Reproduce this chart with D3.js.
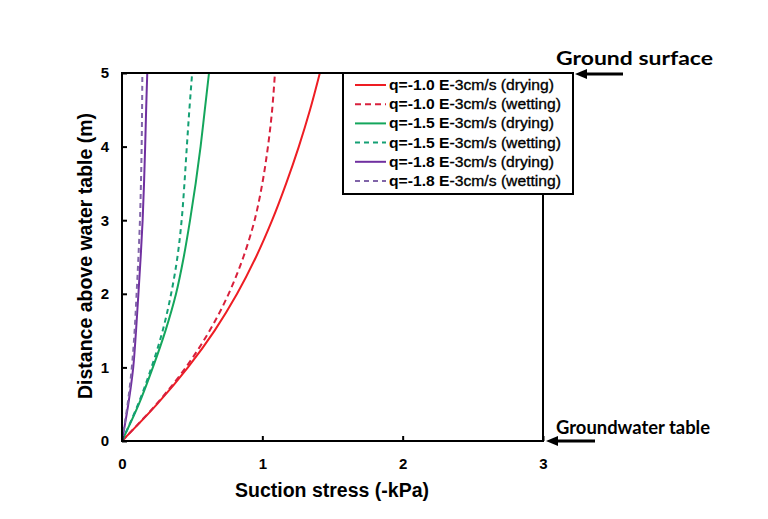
<!DOCTYPE html>
<html><head><meta charset="utf-8">
<script src="https://cdn.jsdelivr.net/npm/d3@7"></script>
<style>body{margin:0;background:#fff}svg{display:block}</style>
</head><body>
<svg id="c" width="768" height="519"></svg>
<script>
const depths = [0, 0.5, 1, 1.5, 2, 2.5, 3, 3.5, 4, 4.5, 5];
const redDry   = [0, 0.25, 0.47, 0.66, 0.82, 0.955, 1.07, 1.17, 1.26, 1.34, 1.41];
const redWet   = [0, 0.245, 0.455, 0.625, 0.76, 0.865, 0.945, 1.0, 1.04, 1.07, 1.09];
const greenDry = [0, 0.12, 0.22, 0.31, 0.385, 0.44, 0.485, 0.525, 0.56, 0.59, 0.62];
const greenWet = [0, 0.115, 0.21, 0.29, 0.35, 0.395, 0.425, 0.445, 0.462, 0.48, 0.50];
const purpDry  = [0, 0.045, 0.08, 0.10, 0.117, 0.133, 0.147, 0.157, 0.165, 0.172, 0.18];
const purpWet  = [0, 0.04, 0.07, 0.09, 0.104, 0.117, 0.128, 0.135, 0.14, 0.143, 0.145];
const xTicks = [0, 1, 2, 3];
const yTicks = [0, 1, 2, 3, 4, 5];
const seriesNames = ["q=-1.0 E-3cm/s (drying)","q=-1.0 E-3cm/s (wetting)","q=-1.5 E-3cm/s (drying)","q=-1.5 E-3cm/s (wetting)","q=-1.8 E-3cm/s (drying)","q=-1.8 E-3cm/s (wetting)"];

const series = [
  {name: seriesNames[0], vals: redDry, color: "#ee1d23", dash: null},
  {name: seriesNames[1], vals: redWet, color: "#d8203c", dash: "6,4"},
  {name: seriesNames[2], vals: greenDry, color: "#14a65c", dash: null},
  {name: seriesNames[3], vals: greenWet, color: "#14a074", dash: "5,4"},
  {name: seriesNames[4], vals: purpDry, color: "#7030a0", dash: null},
  {name: seriesNames[5], vals: purpWet, color: "#8064a8", dash: "5,4"}
];

const svg = d3.select("#c");
const L = 122, R = 543, T = 73, B = 441;
const x = d3.scaleLinear().domain([0, 3]).range([L, R]);
const y = d3.scaleLinear().domain([0, 5]).range([B, T]);
const font = "'Liberation Sans', Arial, sans-serif";

// curves
const line = d3.line().x(d => x(d[0])).y(d => y(d[1])).curve(d3.curveCatmullRom.alpha(0.5));
series.forEach(s => {
  svg.append("path")
    .datum(depths.map((dp, i) => [s.vals[i], dp]))
    .attr("d", line).attr("fill", "none")
    .attr("stroke", s.color).attr("stroke-width", 2)
    .attr("stroke-dasharray", s.dash);
});

// frame
svg.append("rect").attr("x", L).attr("y", T).attr("width", R - L).attr("height", B - T)
  .attr("fill", "none").attr("stroke", "#000").attr("stroke-width", 2);

// axes with inward ticks
const xAxis = d3.axisBottom(x).tickValues(xTicks).tickSize(-5).tickPadding(17).tickFormat(d3.format("d"));
const gx = svg.append("g").attr("transform", `translate(0,${B})`).call(xAxis);
const yAxis = d3.axisLeft(y).tickValues(yTicks).tickSize(-5).tickPadding(13).tickFormat(d3.format("d"));
const gy = svg.append("g").attr("transform", `translate(${L},0)`).call(yAxis);
[gx, gy].forEach(g => {
  g.select(".domain").remove();
  g.selectAll(".tick line").attr("stroke", "#000").attr("stroke-width", 2);
  g.selectAll(".tick text").attr("font-family", font).attr("font-size", 15).attr("font-weight", "bold").attr("fill", "#000");
});

// axis titles
svg.append("text").attr("x", 332).attr("y", 497).attr("text-anchor", "middle")
  .attr("font-family", font).attr("font-size", 19.5).attr("font-weight", "bold").text("Suction stress (-kPa)");
svg.append("text").attr("transform", "translate(92,256) rotate(-90)").attr("text-anchor", "middle")
  .attr("font-family", font).attr("font-size", 19.5).attr("font-weight", "bold").text("Distance above water table (m)");

// legend
const lg = svg.append("g");
lg.append("rect").attr("x", 343).attr("y", 73).attr("width", 230).attr("height", 121)
  .attr("fill", "#fff").attr("stroke", "#000").attr("stroke-width", 2);
series.forEach((s, i) => {
  const yy = 85 + i * 19.2;
  lg.append("line").attr("x1", 355).attr("x2", 386).attr("y1", yy).attr("y2", yy)
    .attr("stroke", s.color).attr("stroke-width", 2).attr("stroke-dasharray", s.dash);
  const parts = s.name.split(" ");
  const t = lg.append("text").attr("x", 389).attr("y", yy + 5).attr("font-family", font).attr("font-size", 15.5)
    .attr("textLength", parts[2].includes("wetting") ? 172 : 165).attr("lengthAdjust", "spacingAndGlyphs");
  t.append("tspan").attr("font-weight", "bold").text(parts[0] + " E");
  t.append("tspan").attr("stroke", "#000").attr("stroke-width", 0.35).text(parts[1].slice(1) + " " + parts[2]);
});

// annotations
const arrow = (x1, x2, yy) => {
  svg.append("line").attr("x1", x1 + 6).attr("x2", x2).attr("y1", yy).attr("y2", yy)
    .attr("stroke", "#000").attr("stroke-width", 3);
  svg.append("path").attr("d", `M${x1},${yy} L${x1 + 12},${yy - 5} L${x1 + 12},${yy + 5} Z`).attr("fill", "#000");
};
arrow(575, 623, 74);
arrow(546, 595, 441);
svg.append("text").attr("x", 556).attr("y", 65).attr("font-family", "Lato, sans-serif")
  .attr("font-size", 18).attr("font-weight", "bold")
  .attr("textLength", 157).attr("lengthAdjust", "spacingAndGlyphs").text("Ground surface");
svg.append("text").attr("x", 556).attr("y", 434).attr("font-family", "Lato, sans-serif")
  .attr("font-size", 18).attr("font-weight", "bold")
  .attr("textLength", 154).attr("lengthAdjust", "spacingAndGlyphs").text("Groundwater table");
</script>
</body></html>
